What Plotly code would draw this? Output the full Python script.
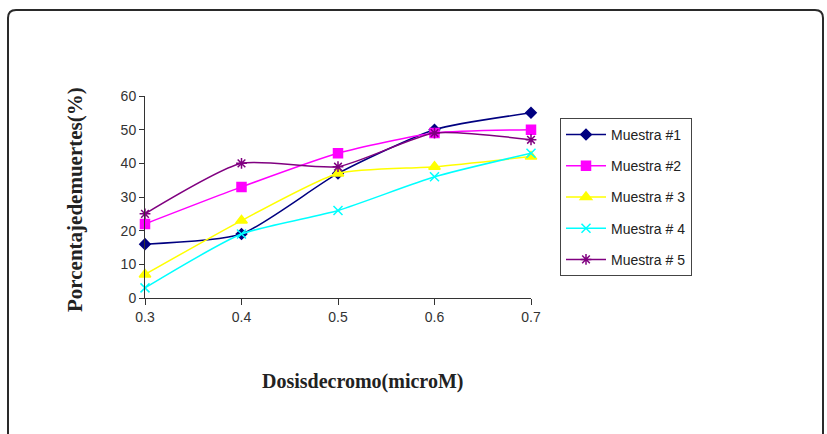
import plotly.graph_objects as go

dosis = [0.3, 0.4, 0.5, 0.6, 0.7]
muestra1 = [16, 19, 37, 50, 55]
muestra2 = [22, 33, 43, 49, 50]
muestra3 = [7, 23, 37, 39, 42]
muestra4 = [3, 19, 26, 36, 43]
muestra5 = [25, 40, 39, 49, 47]
names = ["Muestra #1", "Muestra #2", "Muestra # 3", "Muestra # 4", "Muestra # 5"]
colors = ["#000080", "#FF00FF", "#FFFF00", "#00FFFF", "#800080"]
symbols = ["diamond", "square", "triangle-up", "x-thin-open", "asterisk-open"]
sizes = [8, 9, 10, 9, 9]
series = [muestra1, muestra2, muestra3, muestra4, muestra5]

W, H = 827, 434
L, R, T, B = 145, 531, 96, 298

fig = go.Figure()
for i, (nm, ys) in enumerate(zip(names, series)):
    fig.add_trace(go.Scatter(
        x=dosis, y=ys, name=nm, mode="lines+markers",
        line=dict(color=colors[i], width=1.5, shape="spline", smoothing=0.6),
        marker=dict(symbol=symbols[i], size=sizes[i], color=colors[i],
                    line=dict(color=colors[i], width=1.5)),
        cliponaxis=False, legendgroup=str(i),
    ))

def px(x):
    return (x - L) / (R - L)

def py(y):
    return (B - y) / (B - T)

# rounded outer border
x0, y0, x1, y1, r = 8, 10, 823, 445, 8
path = (f"M {px(x0)} {py(y0 + r)} Q {px(x0)} {py(y0)} {px(x0 + r)} {py(y0)} "
        f"L {px(x1 - r)} {py(y0)} Q {px(x1)} {py(y0)} {px(x1)} {py(y0 + r)} "
        f"L {px(x1)} {py(y1)} M {px(x0)} {py(y0 + r)} L {px(x0)} {py(y1)}")
fig.add_shape(type="path", path=path, xref="paper", yref="paper",
              line=dict(color="#2a2a2a", width=2))

fig.add_annotation(text="<b>Porcentajedemuertes(%)</b>", xref="paper", yref="paper",
                   x=px(75), y=py(200), textangle=-90, showarrow=False,
                   font=dict(family="Liberation Serif", size=21, color="#222"),
                   xanchor="center", yanchor="middle")
fig.add_annotation(text="<b>Dosisdecromo(microM)</b>", xref="paper", yref="paper",
                   x=px(362), y=py(381), showarrow=False,
                   font=dict(family="Liberation Serif", size=20, color="#222"),
                   xanchor="center", yanchor="middle")

fig.update_layout(
    width=W, height=H,
    margin=dict(l=L, r=W - R, t=T, b=H - B),
    paper_bgcolor="white", plot_bgcolor="white",
    font=dict(family="Liberation Sans", size=13, color="#333"),
    xaxis=dict(range=[0.3, 0.7], tickvals=dosis, ticktext=["0.3", "0.4", "0.5", "0.6", "0.7"],
               showgrid=False, zeroline=False, showline=True, linecolor="#333", linewidth=1,
               ticks="outside", ticklen=6, tickcolor="#333",
               tickfont=dict(size=14, color="#333")),
    yaxis=dict(range=[0, 60], dtick=10, showgrid=False, zeroline=False, showline=True,
               linecolor="#333", linewidth=1, ticks="outside", ticklen=5, tickcolor="#333",
               tickfont=dict(size=14, color="#333")),
    legend=dict(x=px(560), y=py(118), xanchor="left", yanchor="top",
                bordercolor="#444", borderwidth=1, bgcolor="white",
                font=dict(family="Liberation Sans", size=14, color="#222"),
                tracegroupgap=10, itemwidth=40),
    showlegend=True,
)

fig.write_html("out.html")
